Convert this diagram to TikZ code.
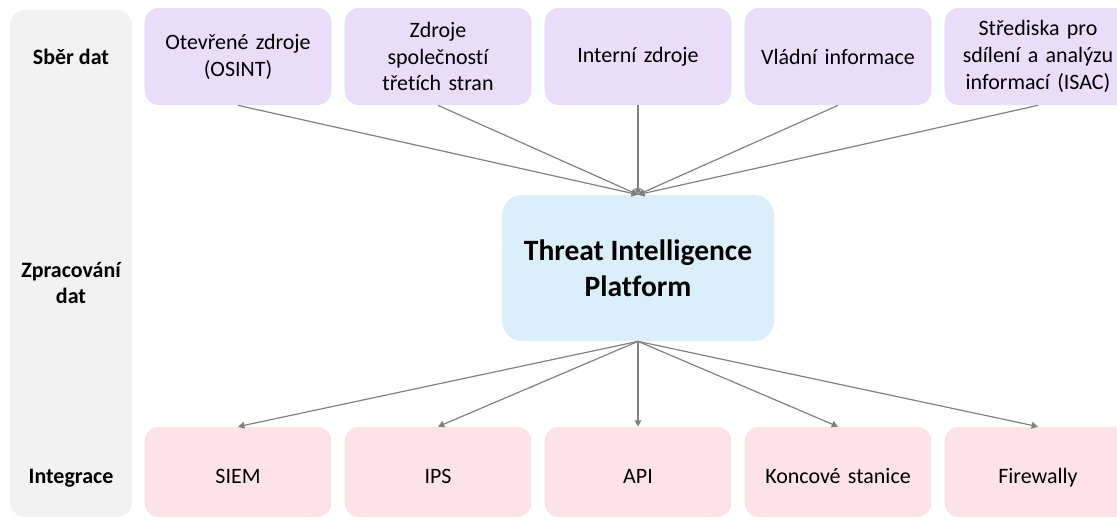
\documentclass[tikz,border=0pt]{standalone}
\usepackage{fontspec}
\setmainfont[Ligatures=NoCommon]{Carlito}
\usetikzlibrary{arrows.meta}
\definecolor{srcpurple}{HTML}{E9DDF9}
\definecolor{tipblue}{HTML}{DAEFFA}
\definecolor{intpink}{HTML}{FDE3E8}
\definecolor{lanegray}{HTML}{F2F2F2}
\definecolor{arrowgray}{HTML}{808080}
\begin{document}
\begin{tikzpicture}[
  box/.style={rectangle,rounded corners=0.28cm,minimum width=3.68cm,text width=3.5cm,align=center,font=\fontsize{12.5}{15.3}\selectfont},
  src/.style={box,fill=srcpurple,minimum height=1.94cm},
  int/.style={box,fill=intpink,minimum height=1.8cm,text height=0.46cm,text depth=0cm},
  tip/.style={rectangle,rounded corners=0.4cm,fill=tipblue,minimum width=5.44cm,minimum height=2.92cm,align=center,font=\fontsize{16.8}{20.4}\selectfont\bfseries},
  lane/.style={align=center,font=\fontsize{12.5}{15.3}\selectfont\bfseries},
  conn/.style={draw=arrowgray,line width=0.68pt,-{Triangle[length=3.6pt,width=3.8pt]}}
]
\useasboundingbox (0,0) rectangle (22.34,10.38);
% Left column with stage names
\fill[lanegray,rounded corners=0.3cm] (0.2,0.04) rectangle (2.64,10.18);
\node[lane] (sber) at (1.42,9.24) {Sběr dat};
\node[lane] (zprac) at (1.42,4.72) {Zpracování\\dat};
\node[lane] (integ) at (1.42,0.82) {Integrace};
% Sources on top row
\node[src] (s1) at (4.76,9.25) {Otevřené zdroje\\(OSINT)};
\node[src] (s2) at (8.76,9.25) {Zdroje\\společností\\třetích stran};
\node[src] (s3) at (12.76,9.25) {Interní zdroje};
\node[src] (s4) at (16.76,9.25) {Vládní informace};
\node[src] (s5) at (20.76,9.25) {Střediska pro\\sdílení a analýzu\\informací (ISAC)};
% Platform in the middle
\node[tip] (tip) at (12.76,5.02) {Threat Intelligence\\Platform};
% Integrations on bottom row
\node[int] (i1) at (4.76,0.94) {SIEM};
\node[int] (i2) at (8.76,0.94) {IPS};
\node[int] (i3) at (12.76,0.94) {API};
\node[int] (i4) at (16.76,0.94) {Koncové stanice};
\node[int] (i5) at (20.76,0.94) {Firewally};
% Arrows
\foreach \n in {1,...,5} {
  \draw[conn] (s\n.south) -- (tip.north);
  \draw[conn] (tip.south) -- (i\n.north);
}
\end{tikzpicture}
\end{document}
